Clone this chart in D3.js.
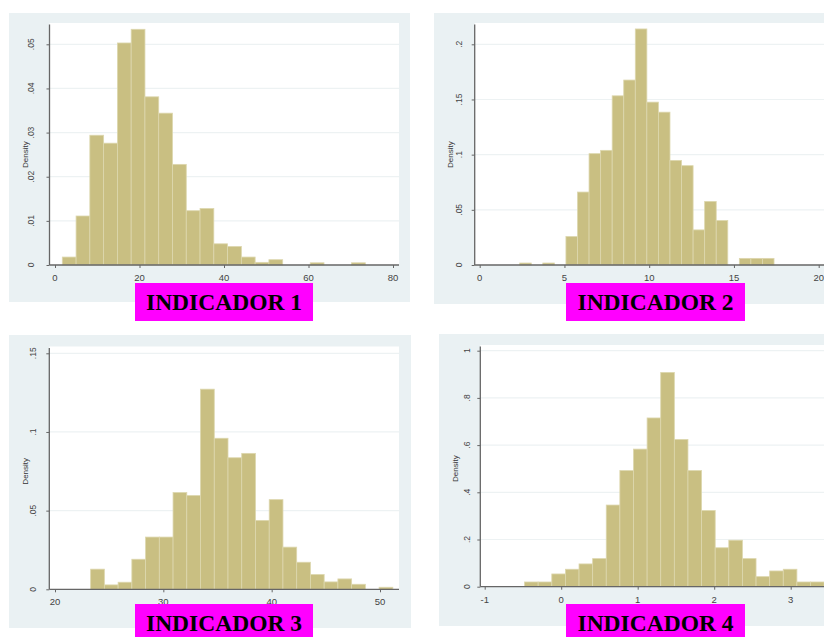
<!DOCTYPE html>
<html>
<head>
<meta charset="utf-8">
<script src="https://cdn.jsdelivr.net/npm/d3@7"></script>
<style>
  html, body { margin: 0; padding: 0; background: #ffffff; }
  svg { display: block; }
</style>
</head>
<body>
<svg id="chart" width="824" height="637"></svg>
<script>
// ---------------- DATA ----------------
const panelTitles = ["INDICADOR 1", "INDICADOR 2", "INDICADOR 3", "INDICADOR 4"];
const yAxisTitle = "Density";

// Indicador 1
const ind1BinStart = 1.73;
const ind1BinWidth = 3.26;
const ind1Density = [0.0018, 0.0111, 0.0294, 0.0276, 0.0503, 0.0534, 0.0381, 0.0344,
  0.0228, 0.0123, 0.0128, 0.0048, 0.0042, 0.0018, 0.0006, 0.0012, 0, 0, 0.0005, 0, 0, 0.0005];
const ind1XTicks = [0, 20, 40, 60, 80];
const ind1YTicks = [0, 0.01, 0.02, 0.03, 0.04, 0.05];

// Indicador 2
const ind2BinStart = 2.36;
const ind2BinWidth = 0.682;
const ind2Density = [0.0018, 0, 0.0018, 0, 0.0258, 0.0661, 0.1009, 0.1039, 0.1533, 0.1676,
  0.2139, 0.1476, 0.1385, 0.0948, 0.0900, 0.0318, 0.0576, 0.0403, 0, 0.006, 0.006, 0.006];
const ind2XTicks = [0, 5, 10, 15, 20];
const ind2YTicks = [0, 0.05, 0.1, 0.15, 0.2];

// Indicador 3
const ind3BinStart = 23.29;
const ind3BinWidth = 1.268;
const ind3Density = [0.0128, 0.0028, 0.0045, 0.0191, 0.0332, 0.0332, 0.0615, 0.0596, 0.1272,
  0.0960, 0.0836, 0.0864, 0.0438, 0.0570, 0.0268, 0.0172, 0.0094, 0.0047, 0.0066, 0.0032, 0, 0.0013];
const ind3XTicks = [20, 30, 40, 50];
const ind3YTicks = [0, 0.05, 0.1, 0.15];

// Indicador 4
const ind4BinStart = -0.479;
const ind4BinWidth = 0.178;
const ind4Density = [0.020, 0.020, 0.054, 0.074, 0.0965, 0.119, 0.346, 0.492, 0.583, 0.715, 0.908,
  0.624, 0.492, 0.323, 0.165, 0.197, 0.119, 0.0426, 0.0667, 0.074, 0.020, 0.020];
const ind4XTicks = [-1, 0, 1, 2, 3];
const ind4YTicks = [0, 0.2, 0.4, 0.6, 0.8, 1];

// ---------------- LAYOUT ----------------
const panels = [
  { title: panelTitles[0], start: ind1BinStart, width: ind1BinWidth, dens: ind1Density,
    xTicks: ind1XTicks, yTicks: ind1YTicks,
    bg: [9, 13, 410, 302], plot: [49.5, 23, 399, 265],
    xDom: [0, 80], xRange: [55, 393], yDom: [0, 0.05], yRange: [265, 44.3],
    yLabX: 31.5, yTitleX: 25, xLabY: 281, box: [135, 283, 313, 321] },
  { title: panelTitles[1], start: ind2BinStart, width: ind2BinWidth, dens: ind2Density,
    xTicks: ind2XTicks, yTicks: ind2YTicks,
    bg: [434, 13, 830, 304], plot: [474.7, 23, 830, 265],
    xDom: [0, 20], xRange: [479.7, 818.7], yDom: [0, 0.2], yRange: [265, 44.3],
    yLabX: 458.7, yTitleX: 450, xLabY: 281, box: [566, 283, 745, 321] },
  { title: panelTitles[2], start: ind3BinStart, width: ind3BinWidth, dens: ind3Density,
    xTicks: ind3XTicks, yTicks: ind3YTicks,
    bg: [9, 335, 411, 628], plot: [49.3, 346.5, 399, 589.3],
    xDom: [20, 50], xRange: [55, 380], yDom: [0, 0.15], yRange: [589.3, 353.3],
    yLabX: 33, yTitleX: 25, xLabY: 604.5, box: [135, 604, 313, 640] },
  { title: panelTitles[3], start: ind4BinStart, width: ind4BinWidth, dens: ind4Density,
    xTicks: ind4XTicks, yTicks: ind4YTicks,
    bg: [439, 334, 830, 626], plot: [480.3, 345, 830, 586.7],
    xDom: [-1, 3], xRange: [484.7, 790.7], yDom: [0, 1], yRange: [586.7, 350.7],
    yLabX: 467, yTitleX: 455, xLabY: 602.5, box: [566, 604, 745, 640] }
];

const fmt = d => d === 0 ? "0" : String(+d.toFixed(4)).replace(/^0\./, ".").replace(/^-0\./, "-.");

const svg = d3.select("#chart");

panels.forEach(p => {
  const g = svg.append("g");
  const x = d3.scaleLinear().domain(p.xDom).range(p.xRange);
  const y = d3.scaleLinear().domain(p.yDom).range(p.yRange);

  // graph region background
  g.append("rect").attr("x", p.bg[0]).attr("y", p.bg[1])
    .attr("width", p.bg[2] - p.bg[0]).attr("height", p.bg[3] - p.bg[1])
    .attr("fill", "#eaf1f3");
  // plot region
  g.append("rect").attr("x", p.plot[0]).attr("y", p.plot[1])
    .attr("width", p.plot[2] - p.plot[0]).attr("height", p.plot[3] - p.plot[1])
    .attr("fill", "#ffffff");

  // gridlines
  g.selectAll(".grid").data(p.yTicks.filter(t => t !== 0)).enter().append("line")
    .attr("x1", p.plot[0]).attr("x2", p.plot[2])
    .attr("y1", d => y(d)).attr("y2", d => y(d))
    .attr("stroke", "#edf2f3").attr("stroke-width", 1.2);

  // bars
  const bars = p.dens.map((d, i) => ({ d, i })).filter(o => o.d > 0);
  g.selectAll("rect.hbar").data(bars).enter().append("rect").attr("class", "hbar")
    .attr("x", o => x(p.start + o.i * p.width))
    .attr("width", o => x(p.start + (o.i + 1) * p.width) - x(p.start + o.i * p.width))
    .attr("y", o => y(o.d))
    .attr("height", o => y(0) - y(o.d))
    .attr("fill", "#c9bf82")
    .attr("stroke", "#ddd7ae").attr("stroke-width", 0.8);

  // y axis
  const yAxis = d3.axisLeft(y).tickValues(p.yTicks).tickSize(3).tickFormat("");
  const ya = g.append("g").attr("transform", `translate(${p.plot[0]},0)`).call(yAxis);
  ya.select(".domain").remove();
  ya.selectAll(".tick line").attr("stroke", "#666").attr("stroke-width", 1);
  g.append("line").attr("x1", p.plot[0]).attr("x2", p.plot[0])
    .attr("y1", p.plot[1] + 1.5).attr("y2", y(0))
    .attr("stroke", "#666").attr("stroke-width", 1.3);
  g.selectAll(".ylab").data(p.yTicks).enter().append("text")
    .attr("transform", d => `translate(${p.yLabX},${y(d)}) rotate(-90)`)
    .attr("text-anchor", "middle").attr("dy", "0.35em")
    .attr("font-family", "Liberation Sans, Arial, sans-serif").attr("font-size", 8.5)
    .attr("fill", "#444").text(fmt);

  // x axis
  const xAxis = d3.axisBottom(x).tickValues(p.xTicks).tickSize(3).tickFormat("");
  const xa = g.append("g").attr("transform", `translate(0,${y(0)})`).call(xAxis);
  xa.select(".domain").remove();
  xa.selectAll(".tick line").attr("stroke", "#666").attr("stroke-width", 1);
  g.append("line").attr("x1", p.plot[0]).attr("x2", Math.min(p.plot[2], 824))
    .attr("y1", y(0)).attr("y2", y(0))
    .attr("stroke", "#666").attr("stroke-width", 1.3);
  g.selectAll(".xlab").data(p.xTicks).enter().append("text")
    .attr("x", d => x(d)).attr("y", p.xLabY)
    .attr("text-anchor", "middle")
    .attr("font-family", "Liberation Sans, Arial, sans-serif").attr("font-size", 9.5)
    .attr("fill", "#444").text(fmt);

  // y title
  const ym = (y.range()[0] + y.range()[1]) / 2;
  g.append("text")
    .attr("transform", `translate(${p.yTitleX},${ym}) rotate(-90)`)
    .attr("text-anchor", "middle").attr("dy", "0.35em")
    .attr("font-family", "Liberation Sans, Arial, sans-serif").attr("font-size", 8)
    .attr("fill", "#333").text(yAxisTitle);

  // magenta label box
  g.append("rect").attr("x", p.box[0]).attr("y", p.box[1])
    .attr("width", p.box[2] - p.box[0]).attr("height", p.box[3] - p.box[1])
    .attr("fill", "#ff00ff");
  g.append("text")
    .attr("x", (p.box[0] + p.box[2]) / 2).attr("y", p.box[1] + 27)
    .attr("text-anchor", "middle")
    .attr("font-family", "Liberation Serif, Times New Roman, serif")
    .attr("font-weight", "bold").attr("font-size", 23)
    .attr("textLength", 156).attr("lengthAdjust", "spacingAndGlyphs")
    .attr("fill", "#000").text(p.title);
});
</script>
</body>
</html>
